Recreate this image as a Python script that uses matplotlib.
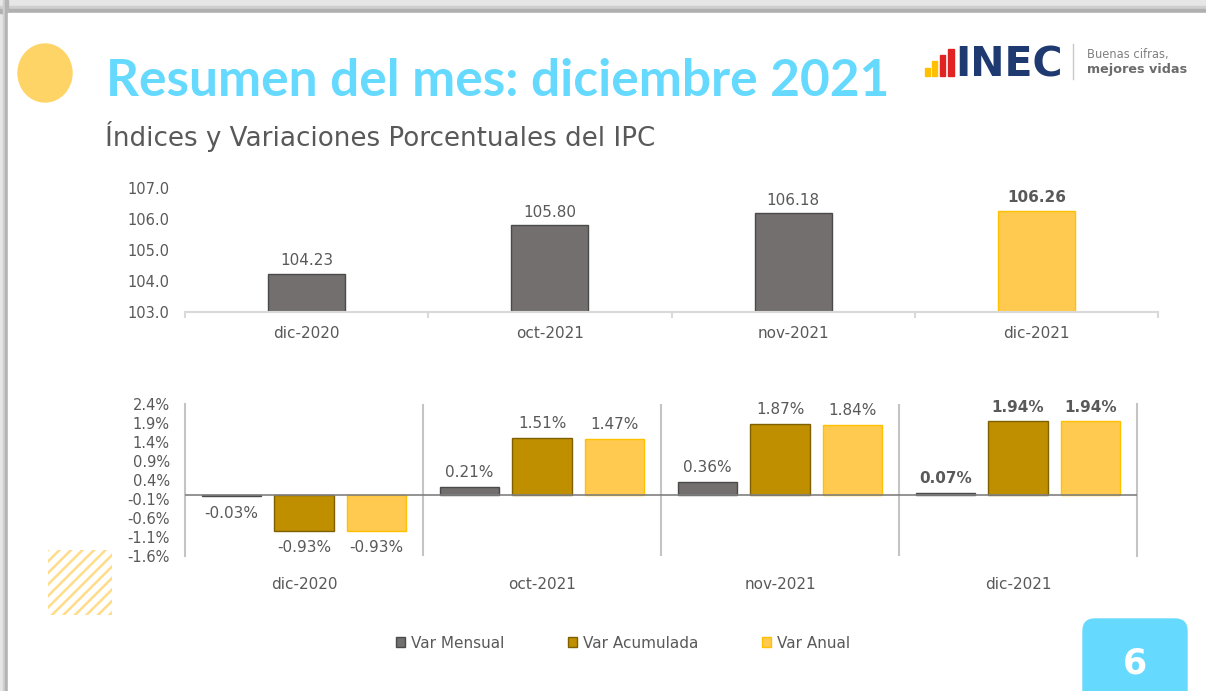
import matplotlib.pyplot as plt
import numpy as np
from matplotlib.patches import Rectangle, Ellipse, FancyBboxPatch

W, H = 1206, 691

# data
meses = ["dic-2020", "oct-2021", "nov-2021", "dic-2021"]
indice = [104.23, 105.80, 106.18, 106.26]
var_mensual = [-0.03, 0.21, 0.36, 0.07]
var_acumulada = [-0.93, 1.51, 1.87, 1.94]
var_anual = [-0.93, 1.47, 1.84, 1.94]
ticks_indice = [103.0, 104.0, 105.0, 106.0, 107.0]
ticks_var = [-1.6, -1.1, -0.6, -0.1, 0.4, 0.9, 1.4, 1.9, 2.4]
series_names = ["Var Mensual", "Var Acumulada", "Var Anual"]

GRAY = "#736F6E"
GOLD = "#BF8F00"
YELLOW = "#FFCA4F"
TXT = "#595959"
CYAN = "#66D9FF"

plt.rcParams["font.family"] = ["DejaVu Sans"]


def px_axes(fig, x0, y0, x1, y1):
    # box given in pixels, y measured from the top
    ax = fig.add_axes([x0 / W, 1 - y1 / H, (x1 - x0) / W, (y1 - y0) / H])
    ax.set_facecolor("none")
    return ax


fig = plt.figure(figsize=(W / 100, H / 100), dpi=100)

# slide background / decorations
bg = fig.add_axes([0, 0, 1, 1])
bg.set_xlim(0, W)
bg.set_ylim(H, 0)
bg.axis("off")
bg.add_patch(Rectangle((0, 0), W, H, color="#e6e6e6"))
bg.add_patch(Rectangle((0, 6), W, 3, color="#cfcfcf"))
bg.add_patch(Rectangle((0, 9), W, 4, color="#b0b0b0"))
bg.add_patch(Rectangle((3, 0), 2, H, color="#d0d0d0"))
bg.add_patch(Rectangle((5, 0), 3, H, color="#b4b4b4"))
bg.add_patch(Rectangle((8, 13), W - 8, H - 13, color="white"))
bg.add_patch(Ellipse((45, 73), 54, 58, color="#FFD466"))

bg.text(106, 96, "Resumen del mes: diciembre 2021", color=CYAN, fontsize=37,
        fontweight="bold", family="Lato", va="baseline", ha="left")
bg.text(105, 146, "Índices y Variaciones Porcentuales del IPC", color=TXT,
        fontsize=18.8, va="baseline", ha="left")

# logo
for x0, x1, top, c in [(925, 930, 68, "#FFC000"), (932, 937, 61, "#FFC000"),
                       (940, 945, 55, "#E02424"), (948, 954, 49, "#E02424")]:
    bg.add_patch(Rectangle((x0, top), x1 - x0, 76 - top, color=c))
bg.text(955, 76, "INEC", color="#1E3A70", fontsize=29.5, fontweight="bold",
        va="baseline", ha="left")
bg.plot([1073, 1073], [44, 79], color="#c8c8c8", lw=1)
bg.text(1087, 58, "Buenas cifras,", color="#808080", fontsize=8.3, va="baseline")
bg.text(1087, 73, "mejores vidas", color="#6b6b6b", fontsize=9.2,
        fontweight="bold", va="baseline")

# hatched square bottom left
clip = Rectangle((48, 550), 64, 65, transform=bg.transData)
for c in np.arange(48 + 550, 112 + 615 + 12, 11.5):
    ln, = bg.plot([c - 650, c - 500], [650, 500], color="#FFDC88", lw=1.8)
    ln.set_clip_path(clip)

# page number
bg.add_patch(FancyBboxPatch((1083, 619), 104, 100,
                            boxstyle="round,pad=0,rounding_size=12", color=CYAN))
bg.text(1135, 664, "6", color="white", fontsize=25, fontweight="bold",
        ha="center", va="center")

# --- top chart: indices
ax1 = px_axes(fig, 185, 188, 1158, 312)
x = np.arange(len(meses))
colors1 = [GRAY, GRAY, GRAY, YELLOW]
edges1 = ["#4a4a4a", "#4a4a4a", "#4a4a4a", "#FFC000"]
ax1.bar(x, indice, width=0.316, color=colors1, edgecolor=edges1, lw=1)
for i, v in enumerate(indice):
    ax1.annotate(f"{v:.2f}", (x[i], v), xytext=(0, 4), textcoords="offset points",
                 ha="center", va="bottom", fontsize=11, color=TXT,
                 fontweight="bold" if i == 3 else "normal")
ax1.set_xlim(-0.5, 3.5)
ax1.set_ylim(103, 107)
ax1.set_yticks(ticks_indice, [f"{t:.1f}" for t in ticks_indice])
ax1.set_xticks(x, meses)
ax1.set_xticks(np.arange(-0.5, 4, 1), minor=True)
ax1.tick_params(axis="y", length=0, pad=11, labelsize=10.5, labelcolor=TXT)
ax1.tick_params(axis="x", which="major", length=0, pad=10, labelsize=11, labelcolor=TXT)
ax1.tick_params(axis="x", which="minor", length=4, width=1.5, color="#d9d9d9")
for s in ["top", "right", "left"]:
    ax1.spines[s].set_visible(False)
ax1.spines["bottom"].set_color("#d9d9d9")
ax1.spines["bottom"].set_linewidth(1.5)

# --- bottom chart: variations
ax2 = px_axes(fig, 185, 404, 1137, 556)
series = [var_mensual, var_acumulada, var_anual]
fills = [GRAY, GOLD, YELLOW]
edges2 = ["#4a4a4a", "#7f6000", "#FFC000"]
offsets = [-0.305, 0.0, 0.305]
handles = []
for vals, fc, ec, off, name in zip(series, fills, edges2, offsets, series_names):
    b = ax2.bar(x + off, vals, width=0.25, color=fc, edgecolor=ec, lw=1, label=name, zorder=2)
    handles.append(b)
    for i, v in enumerate(vals):
        pos = v >= 0
        ax2.annotate(f"{v:.2f}%", (x[i] + off, v), xytext=(0, 5 if pos else -7),
                     textcoords="offset points", ha="center",
                     va="bottom" if pos else "top", fontsize=11, color=TXT,
                     fontweight="bold" if i == 3 else "normal")
ax2.axhline(0, color="#808080", lw=1.2, zorder=3)
for b in [0.5, 1.5, 2.5]:
    ax2.axvline(b, color="#c4c4c4", lw=1.5, zorder=1)
ax2.set_xlim(-0.5, 3.5)
ax2.set_ylim(-1.6, 2.4)
ax2.set_yticks(ticks_var, [f"{t:.1f}%" for t in ticks_var])
ax2.set_xticks(x, meses)
ax2.tick_params(axis="y", length=0, pad=11, labelsize=10.5, labelcolor=TXT)
ax2.tick_params(axis="x", length=0, pad=15, labelsize=11, labelcolor=TXT)
for s in ["top", "bottom"]:
    ax2.spines[s].set_visible(False)
for s in ["left", "right"]:
    ax2.spines[s].set_color("#c4c4c4")
    ax2.spines[s].set_linewidth(1.5)

fig.legend(handles=handles, labels=series_names, loc="center",
           bbox_to_anchor=(623 / W, 1 - 643 / H), ncol=3, frameon=False,
           handlelength=0.6, handleheight=0.6, handletextpad=0.35,
           columnspacing=4.2, fontsize=11, labelcolor=TXT)

fig.savefig("out.png", dpi=100)
